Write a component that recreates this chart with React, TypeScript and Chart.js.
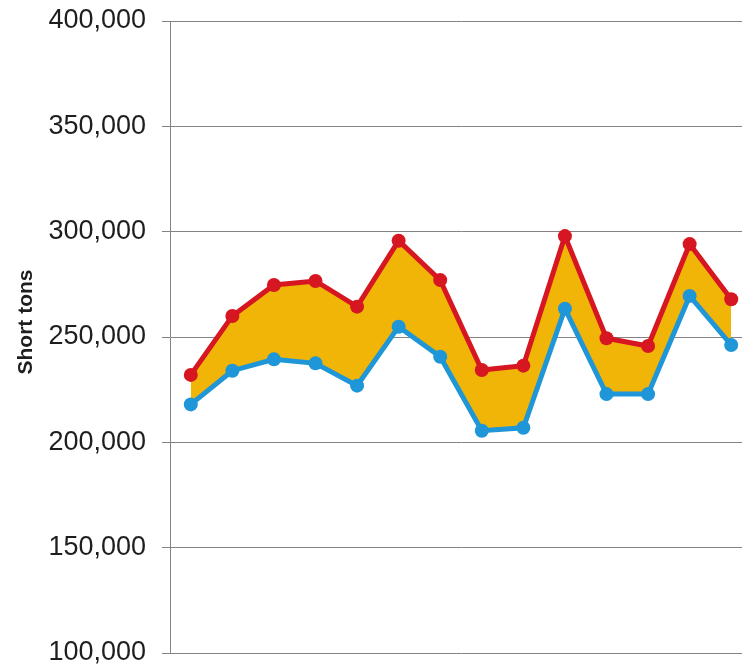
import React, { useEffect, useRef } from "react";
import { Chart, registerables } from "chart.js";

Chart.register(...registerables);

// Fourteen periods along the x axis (labels are not drawn on the axis)
const periods: string[] = [
  "P1", "P2", "P3", "P4", "P5", "P6", "P7",
  "P8", "P9", "P10", "P11", "P12", "P13", "P14",
];

// Upper series (red line), short tons
const upperTons: number[] = [
  232000, 260000, 274700, 276600, 264400, 295700, 277000,
  234300, 236400, 297900, 249400, 245700, 294100, 267900,
];

// Lower series (blue line), short tons
const lowerTons: number[] = [
  218000, 234000, 239400, 237500, 226900, 254900, 240600,
  205500, 206900, 263400, 222900, 222900, 269500, 246200,
];

// Value axis bounds and step
const yMin = 100000;
const yMax = 400000;
const yStep = 50000;

const RED = "rgb(214,22,32)";
const BLUE = "rgb(30,150,215)";
const GOLD = "rgb(241,181,8)";
const GRID = "#878281";

const yTitle = "Short tons";

export default function App() {
  const canvasRef = useRef<HTMLCanvasElement | null>(null);

  useEffect(() => {
    document.body.style.margin = "0";
    const canvas = canvasRef.current;
    if (!canvas) return;

    // Rotated axis title, placed beside the value labels
    const axisTitle = {
      id: "axisTitle",
      afterDraw(chart: Chart) {
        const ctx = chart.ctx;
        ctx.save();
        ctx.translate(26, 322);
        ctx.rotate(-Math.PI / 2);
        ctx.font = "bold 21px 'Liberation Sans', Arial, sans-serif";
        ctx.fillStyle = "#1e1e1e";
        ctx.textAlign = "center";
        ctx.textBaseline = "middle";
        ctx.fillText(yTitle, 0, 0);
        ctx.restore();
      },
    };

    const chart = new Chart(canvas, {
      type: "line",
      data: {
        labels: periods,
        datasets: [
          {
            label: "Upper",
            data: upperTons,
            borderColor: RED,
            backgroundColor: GOLD,
            pointBackgroundColor: RED,
            pointBorderColor: RED,
            pointBorderWidth: 0,
            pointRadius: 7,
            borderWidth: 5,
            tension: 0,
            fill: "+1",
          },
          {
            label: "Lower",
            data: lowerTons,
            borderColor: BLUE,
            backgroundColor: BLUE,
            pointBackgroundColor: BLUE,
            pointBorderColor: BLUE,
            pointBorderWidth: 0,
            pointRadius: 7,
            borderWidth: 5,
            tension: 0,
            fill: false,
          },
        ],
      },
      options: {
        responsive: false,
        animation: false,
        layout: { padding: { top: 21, bottom: 12, left: 0, right: 0 } },
        plugins: {
          legend: { display: false },
          tooltip: { enabled: false },
          filler: { drawTime: "beforeDatasetsDraw" },
        },
        scales: {
          x: {
            display: false,
            offset: true,
            grid: { display: false },
          },
          y: {
            min: yMin,
            max: yMax,
            grid: {
              color: GRID,
              lineWidth: 1,
              drawTicks: true,
              tickLength: 8,
            },
            border: { display: true, color: GRID, width: 1 },
            ticks: {
              stepSize: yStep,
              padding: 16,
              color: "#1e1e1e",
              font: { family: "'Liberation Sans', Arial, sans-serif", size: 27, lineHeight: 1 },
              callback: (v: number | string) => Number(v).toLocaleString("en-US"),
            },
            afterFit(scale: any) {
              scale.width = 170;
              scale.paddingTop = 0;
              scale.paddingBottom = 0;
            },
          },
        },
      },
      plugins: [axisTitle],
    });

    return () => chart.destroy();
  }, []);

  return (
    <div style={{ width: 742, height: 665, overflow: "hidden", background: "#fff" }}>
      <canvas ref={canvasRef} width={759} height={665} style={{ display: "block" }} />
    </div>
  );
}
